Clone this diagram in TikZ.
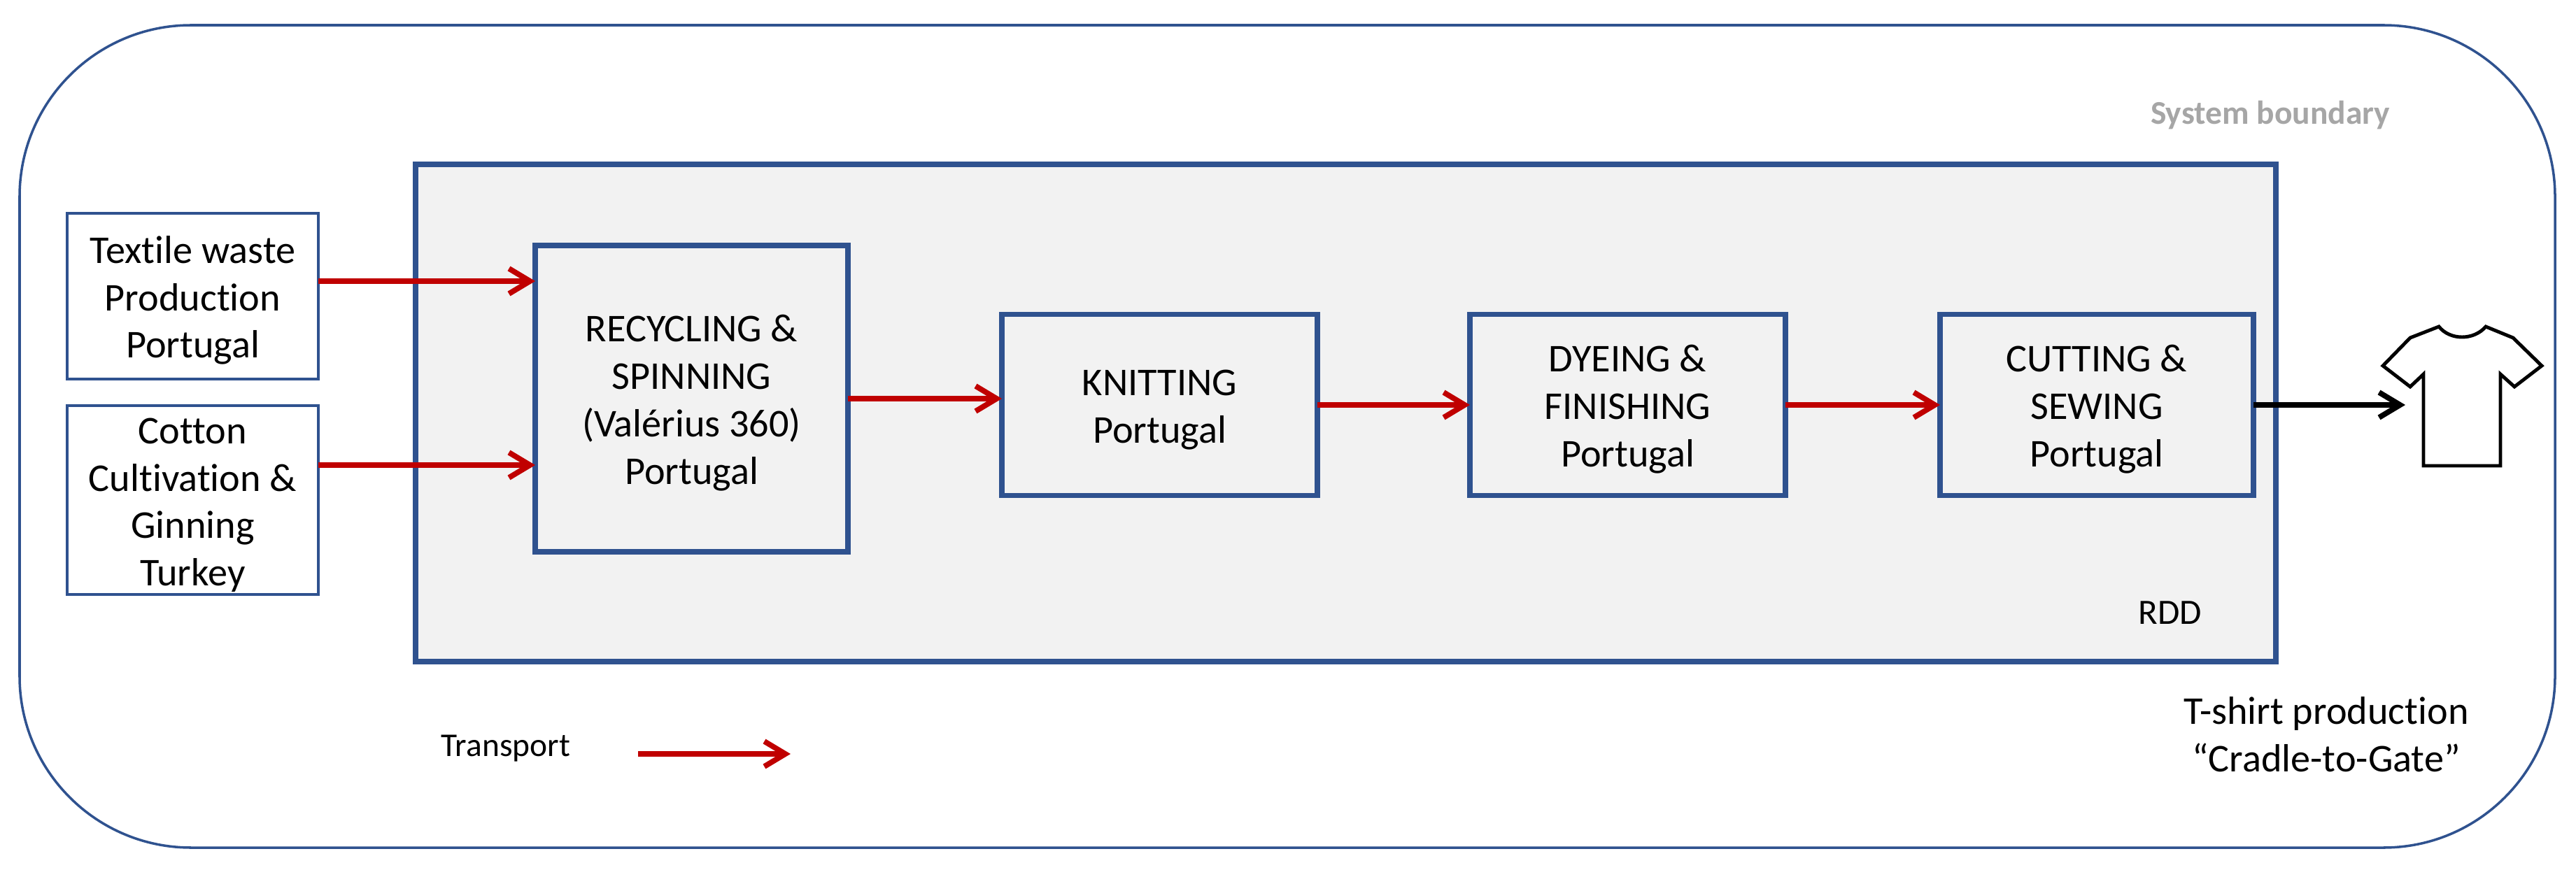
\documentclass[tikz,border=0pt]{standalone}
\usepackage{fontspec}
\setmainfont[Ligatures=NoCommon]{Carlito}
\usetikzlibrary{positioning,arrows.meta}
\definecolor{boxblue}{HTML}{2F528F}
\definecolor{transred}{HTML}{C00000}
\newcommand{\firstline}{\rule{0pt}{14.5pt}}

\begin{document}
\begin{tikzpicture}[
  stepbox/.style={draw=boxblue, line width=2.1pt, fill=black!5, align=center, outer sep=0pt, font=\fontsize{16}{19.3}\selectfont},
  inbox/.style={draw=boxblue, line width=1.1pt, fill=white, minimum width=3.59cm, inner ysep=0pt, align=center, outer sep=0pt, font=\fontsize{16}{19.3}\selectfont},
  trans/.style={-{Straight Barb[length=0.3cm,width=0.36cm]}, transred, line width=2.2pt},
  gate/.style={-{Straight Barb[length=0.3cm,width=0.36cm]}, black, line width=2.2pt}
]
  \useasboundingbox (0,0) rectangle (36.82,12.43);

  \node[draw=boxblue, line width=1pt, rounded corners=2.45cm, minimum width=36.24cm, minimum height=11.76cm, outer sep=0pt] (boundary) at (18.4,6.19) {};
  \node[stepbox, minimum width=26.59cm, minimum height=7.11cm] (rdd) at (19.235,6.525) {};

  \node[inbox, minimum height=2.37cm] (waste) at (2.755,8.195) {\firstline Textile waste\\Production\\Portugal};
  \node[inbox, minimum height=2.70cm] (cotton) at (2.755,5.28) {\firstline Cotton\\Cultivation \&\\Ginning\\Turkey};

  \node[stepbox, minimum width=4.47cm, minimum height=4.38cm] (recycling) at (9.885,6.73) {\firstline RECYCLING \&\\SPINNING\\(Valérius 360)\\Portugal};
  \node[stepbox, minimum width=4.51cm, minimum height=2.59cm] (knitting) at (16.575,6.64) {\firstline KNITTING\\Portugal};
  \node[stepbox, minimum width=4.51cm, minimum height=2.59cm] (dyeing) at (23.265,6.64) {\firstline DYEING \&\\FINISHING\\Portugal};
  \node[stepbox, minimum width=4.48cm, minimum height=2.59cm] (cutting) at (29.97,6.64) {\firstline CUTTING \&\\SEWING\\Portugal};

  \node[font=\fontsize{13.5}{16}\selectfont\bfseries, text=black!35] (sysname) at (32.45,10.78) {System boundary};
  \node[font=\fontsize{14.5}{17}\selectfont] (rddname) at (31.02,3.67) {RDD};
  \node[font=\fontsize{13.5}{16}\selectfont] (transname) at (7.23,1.73) {Transport};
  \node[font=\fontsize{16}{19.3}\selectfont, align=center] (tshirtname) at (33.25,1.93) {T-shirt production\\“Cradle-to-Gate”};

  \coordinate (legA) at (9.12,1.65);
  \coordinate (legB) at (11.3,1.65);
  \coordinate (shirtin) at (34.38,6.64);

  \draw[trans] (waste.east |- 0,8.41) -- (recycling.west |- 0,8.41);
  \draw[trans] (cotton.east |- 0,5.78) -- (recycling.west |- 0,5.78);
  \draw[trans] (recycling) ++(2.235,0) -- (knitting.west |- recycling);
  \draw[trans] (knitting) -- (dyeing);
  \draw[trans] (dyeing) -- (cutting);
  \draw[gate] (cutting) -- (shirtin);
  \draw[trans] (legA) -- (legB);

  % shirt outline
  \draw[black, line width=1.4pt, line join=miter] (34.06,7.20) -- (34.45,7.60) -- (34.86,7.76)
    .. controls (35.02,7.56) and (35.36,7.56) .. (35.53,7.76)
    -- (35.92,7.60) -- (36.33,7.20) -- (35.94,6.90) -- (35.74,7.08) -- (35.74,5.77)
    -- (34.64,5.77) -- (34.64,7.08) -- (34.45,6.90) -- cycle;
\end{tikzpicture}
\end{document}
